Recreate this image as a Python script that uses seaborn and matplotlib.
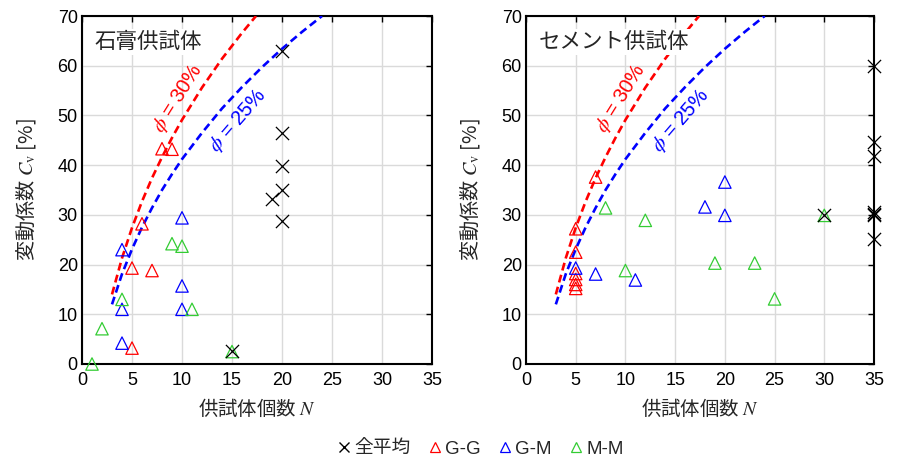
import numpy as np
import pandas as pd
import matplotlib
matplotlib.use("Agg")
import matplotlib.pyplot as plt
import seaborn as sns
from matplotlib.lines import Line2D

sns.set_style("white")
plt.rcParams['font.family'] = ['Liberation Sans', 'Noto Sans CJK JP', 'DejaVu Sans']
plt.rcParams['mathtext.fontset'] = 'stix'

# ---- data: theoretical curves ----
curve30_N = [3, 4, 5, 6, 7, 8, 9, 10, 12, 14, 16, 17.4]
curve30_C = [14.0, 21.3, 27.4, 32.7, 37.4, 41.6, 45.5, 49.1, 55.6, 61.4, 66.6, 70.0]
curve25_N = [3, 4, 5, 6, 7, 8, 9, 10, 12, 14, 16, 18, 20, 22, 24]
curve25_C = [12.0, 18.1, 23.1, 27.5, 31.4, 35.0, 38.2, 41.2, 46.5, 51.4, 55.7, 59.7, 63.4, 66.8, 70.0]

# ---- left panel: 石膏供試体 ----
gyp_GG_N = [8, 9, 6, 5, 7, 5]
gyp_GG_C = [43.3, 43.2, 28.2, 19.3, 18.8, 3.2]
gyp_GM_N = [4, 10, 10, 10, 4, 4]
gyp_GM_C = [23.0, 29.4, 15.7, 11.0, 11.0, 4.2]
gyp_MM_N = [4, 9, 10, 11, 2, 1, 15]
gyp_MM_C = [13.0, 24.2, 23.7, 11.0, 7.1, 0.0, 2.5]
gyp_all_N = [20, 20, 20, 20, 19, 20, 15]
gyp_all_C = [62.9, 46.4, 39.8, 35.0, 33.1, 28.7, 2.6]

# ---- right panel: セメント供試体 ----
cem_GG_N = [7, 5, 5, 5, 5, 5, 5]
cem_GG_C = [37.6, 27.2, 22.5, 18.2, 17.0, 16.0, 15.2]
cem_GM_N = [5, 7, 11, 18, 20, 20]
cem_GM_C = [19.3, 18.1, 16.9, 31.6, 36.6, 29.9]
cem_MM_N = [8, 12, 10, 19, 23, 25, 30]
cem_MM_C = [31.4, 28.9, 18.8, 20.3, 20.3, 13.1, 29.9]
cem_all_N = [30, 35, 35, 35, 35, 35, 35, 35]
cem_all_C = [30.0, 59.9, 44.6, 41.9, 30.6, 30.2, 29.9, 25.2]

panel_titles = ['石膏供試体', 'セメント供試体']
legend_labels = ['全平均', 'G-G', 'G-M', 'M-M']
x_ticks = [0, 5, 10, 15, 20, 25, 30, 35]
y_ticks = [0, 10, 20, 30, 40, 50, 60, 70]

RED = '#ff0000'
BLUE = '#0000ff'
GREEN = '#33cc33'
JP = ['Noto Sans CJK JP', 'DejaVu Sans']
MIX = ['Liberation Sans', 'Noto Sans CJK JP', 'DejaVu Sans']

fig = plt.figure(figsize=(8.99, 4.61), dpi=100)
ax1 = fig.add_axes([82/899, 1-364/461, 350/899, 348/461])
ax2 = fig.add_axes([526/899, 1-364/461, 348/899, 348/461])

panels = [
    (ax1, gyp_GG_N, gyp_GG_C, gyp_GM_N, gyp_GM_C, gyp_MM_N, gyp_MM_C, gyp_all_N, gyp_all_C),
    (ax2, cem_GG_N, cem_GG_C, cem_GM_N, cem_GM_C, cem_MM_N, cem_MM_C, cem_all_N, cem_all_C),
]

for i, (ax, ggN, ggC, gmN, gmC, mmN, mmC, alN, alC) in enumerate(panels):
    ax.set_xlim(0, 35)
    ax.set_ylim(0, 70)
    ax.grid(True, color='#dadada', linewidth=1.0, zorder=0)
    ax.set_axisbelow(True)

    c30 = pd.DataFrame({'N': curve30_N, 'C': curve30_C})
    c25 = pd.DataFrame({'N': curve25_N, 'C': curve25_C})
    sns.lineplot(data=c30, x='N', y='C', ax=ax, color=RED, linewidth=1.9,
                 linestyle=(0, (3.0, 1.7)), sort=False, zorder=3)
    sns.lineplot(data=c25, x='N', y='C', ax=ax, color=BLUE, linewidth=1.9,
                 linestyle=(0, (3.0, 1.7)), sort=False, zorder=3)

    for xs, ys, col in [(ggN, ggC, RED), (gmN, gmC, BLUE), (mmN, mmC, GREEN)]:
        df = pd.DataFrame({'N': xs, 'C': ys})
        sns.scatterplot(data=df, x='N', y='C', ax=ax, marker='^', s=80,
                        facecolor='none', edgecolor=col, linewidth=0.9,
                        zorder=4, clip_on=False)
    dfa = pd.DataFrame({'N': alN, 'C': alC})
    sns.scatterplot(data=dfa, x='N', y='C', ax=ax, marker='x', s=90,
                    color='black', linewidth=0.9, zorder=5, clip_on=False)

    ax.text(9.6, 53.5, r'$\phi$ = 30%', color=RED, fontsize=14.5, rotation=58,
            ha='center', va='center', zorder=6)
    ax.text(15.6, 49.0, r'$\phi$ = 25%', color=BLUE, fontsize=14.5, rotation=49,
            ha='center', va='center', zorder=6)

    ax.text(0.037, 0.925, panel_titles[i], transform=ax.transAxes, fontsize=15.5,
            family=['Noto Sans CJK JP'], ha='left', va='center', zorder=7,
            bbox=dict(facecolor='white', edgecolor='none', pad=1.5))

    ax.set_xticks(x_ticks)
    ax.set_yticks(y_ticks)
    ax.tick_params(direction='in', top=True, right=True, length=4, width=1,
                   labelsize=13, pad=3, colors='black')
    ax.tick_params(axis='x', pad=6)
    for sp in ax.spines.values():
        sp.set_color('black')
        sp.set_linewidth(1.5)
        sp.set_visible(True)
    ax.set_xlabel('供試体個数 $N$', fontsize=14, family=JP, labelpad=6)
    ax.set_ylabel('変動係数 $C_{\\mathrm{v}}$ [%]', fontsize=14.5, family=JP, labelpad=14)

handles = [
    Line2D([], [], marker='x', linestyle='none', color='black', markersize=6.5, markeredgewidth=1.0),
    Line2D([], [], marker='^', linestyle='none', markerfacecolor='none', markeredgecolor=RED, markersize=7, markeredgewidth=0.9),
    Line2D([], [], marker='^', linestyle='none', markerfacecolor='none', markeredgecolor=BLUE, markersize=7, markeredgewidth=0.9),
    Line2D([], [], marker='^', linestyle='none', markerfacecolor='none', markeredgecolor=GREEN, markersize=7, markeredgewidth=0.9),
]
fig.legend(handles, legend_labels, loc='center', bbox_to_anchor=(480/899, 1 - 449/461),
           ncol=4, frameon=False, handletextpad=0.15, columnspacing=0.9,
           handlelength=0.8, prop={'family': MIX, 'size': 13.5})

fig.savefig('out.png', dpi=100)
